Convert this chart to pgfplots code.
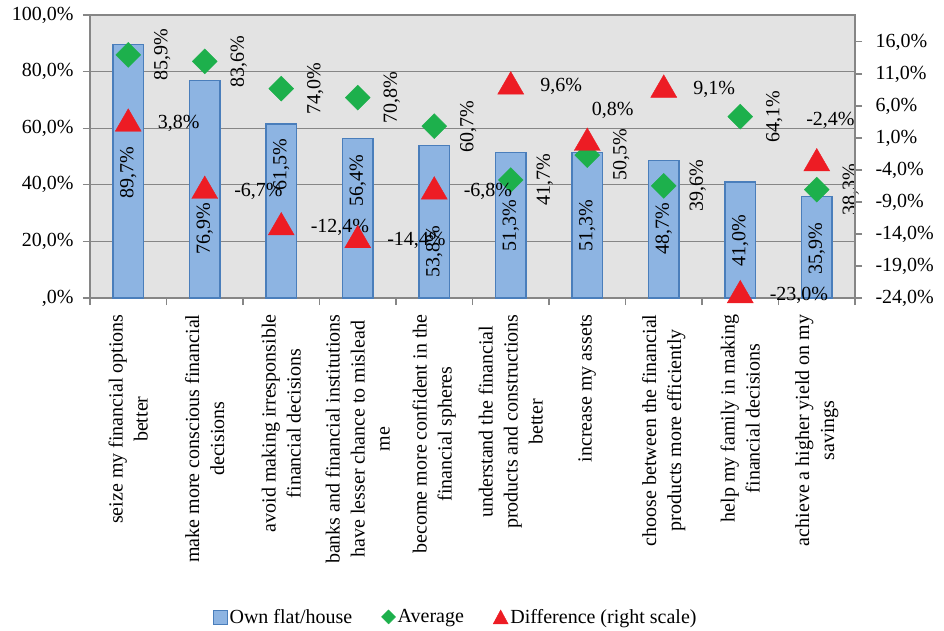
\documentclass[border=0pt]{standalone}
\usepackage{fontspec}
\setmainfont{Liberation Serif}
\usepackage{pgfplots}
\usepackage{pgfplotstable}
\pgfplotsset{compat=1.18}

\definecolor{barfill}{RGB}{141,180,226}
\definecolor{baredge}{RGB}{74,126,187}
\definecolor{avggreen}{RGB}{29,176,76}
\definecolor{diffred}{RGB}{237,28,36}
\definecolor{plotbg}{RGB}{227,227,227}
\definecolor{axgray}{RGB}{134,134,134}

% own, average, shift of the own label from bar top (pt)
\pgfplotstableread{
x own avg ldy
0 89.7 85.9 -129
1 76.9 83.6 -148
2 61.5 74.0 -41
3 56.4 70.8 -42
4 53.8 60.7 -106
5 51.3 41.7 -73
6 51.3 50.5 -73
7 48.7 39.6 -68
8 41.0 64.1 -59
9 35.9 38.3 -52
}\owntab

% difference (right scale), label offsets (pt)
\pgfplotstableread{
x diff dx dy
0 3.8 26 0
1 -6.7 26 0
2 -12.4 26 0
3 -14.4 26 0
4 -6.8 26 0
5 9.6 26 0
6 0.8 1 33
7 9.1 26 0
8 -23.0 26 0
9 -2.4 -14 43
}\difftab

\pgfplotsset{
  common/.style={
    at={(0pt,0pt)}, anchor=south west,
    scale only axis, width=765pt, height=283pt,
    xmin=-0.5, xmax=9.5, clip=false,
    tick align=outside, major tick length=7pt, minor tick length=7pt,
    axis line style={axgray, line width=1.2pt},
    /pgf/number format/.cd, fixed, fixed zerofill, precision=1, use comma, assume math mode=true,
  },
}

\begin{document}
\begin{tikzpicture}[font=\fontsize{20}{25}\selectfont]
\useasboundingbox (-90pt,-333pt) rectangle (854pt,298pt);
\begin{axis}[common,
  ymin=0, ymax=100,
  axis background/.style={fill=plotbg},
  ytick={0,20,...,100},
  yticklabels={{,0\%},{20,0\%},{40,0\%},{60,0\%},{80,0\%},{100,0\%}},
  ytick pos=left, ytick style={axgray, line width=1.2pt},
  yticklabel style={xshift=-6pt},
  ymajorgrids, grid style={axgray, line width=1.2pt},
  xtick={0,...,9}, xtick pos=bottom,
  minor xtick={-0.5,0.5,...,9.5},
  major x tick style={draw=none},
  minor x tick style={axgray, line width=1.2pt},
  xticklabel shift=6pt,
  xticklabel style={rotate=90, anchor=east, align=center},
  xticklabels={
    {seize my financial options\\better},
    {make more conscious financial\\decisions},
    {avoid making irresponsible\\financial decisions},
    {banks and financial institutions\\have lesser chance to mislead\\me},
    {become more confident in the\\financial spheres},
    {understand the financial\\products and constructions\\better},
    {increase my assets},
    {choose between the financial\\products more efficiently},
    {help my family in making\\financial decisions},
    {achieve a higher yield on my\\savings}},
]
\addplot[ybar, bar width=0.4, fill=barfill, draw=baredge, line width=1.2pt,
  point meta=y,
  nodes near coords={\pgfmathprintnumber{\pgfplotspointmeta}\%},
  visualization depends on={\thisrow{ldy} \as \ldy},
  nodes near coords style={yshift=\ldy pt, rotate=90, anchor=center, text=black}]
  table[x=x, y=own] {\owntab};
\addplot[only marks, mark=square*, mark size=8.8pt,
  mark options={rotate=45, fill=avggreen, draw=avggreen},
  point meta=y,
  nodes near coords={\pgfmathprintnumber{\pgfplotspointmeta}\%},
  nodes near coords style={xshift=34pt, rotate=90, anchor=center, text=black}]
  table[x=x, y=avg] {\owntab};
\end{axis}

\begin{axis}[common,
  ymin=-24, ymax=20.2,
  axis x line=none, axis y line*=right,
  ytick={-24,-19,...,16},
  yticklabels={{-24,0\%},{-19,0\%},{-14,0\%},{-9,0\%},{-4,0\%},{1,0\%},{6,0\%},{11,0\%},{16,0\%}},
  ytick style={axgray, line width=1.2pt},
  yticklabel style={xshift=10pt},
  legend style={at={(axis description cs:0.478,-1.127)}, anchor=center,
    draw=none, fill=none, legend columns=3,
    /tikz/every even column/.append style={column sep=27pt}},
]
\addlegendimage{legend image code/.code={\draw[fill=barfill, draw=baredge, line width=0.8pt] (0pt,-7pt) rectangle (14pt,7pt);}}
\addlegendentry{Own flat/house}
\addlegendimage{legend image code/.code={\fill[avggreen] (7pt,-7pt) -- (14pt,0pt) -- (7pt,7pt) -- (0pt,0pt) -- cycle;}}
\addlegendentry{Average}
\addplot[only marks, mark=triangle*, mark size=15pt,
  mark options={yshift=-3.75pt, fill=diffred, draw=diffred},
  legend image code/.code={\fill[diffred] (0pt,-7pt) -- (15pt,-7pt) -- (7.5pt,7pt) -- cycle;},
  point meta=y,
  nodes near coords={\pgfmathprintnumber{\pgfplotspointmeta}\%},
  visualization depends on={\thisrow{dx} \as \dx},
  visualization depends on={\thisrow{dy} \as \dy},
  nodes near coords style={xshift=\dx pt, yshift=\dy pt, anchor=west, text=black}]
  table[x=x, y=diff] {\difftab};
\addlegendentry{Difference (right scale)}
\end{axis}
\end{tikzpicture}
\end{document}
